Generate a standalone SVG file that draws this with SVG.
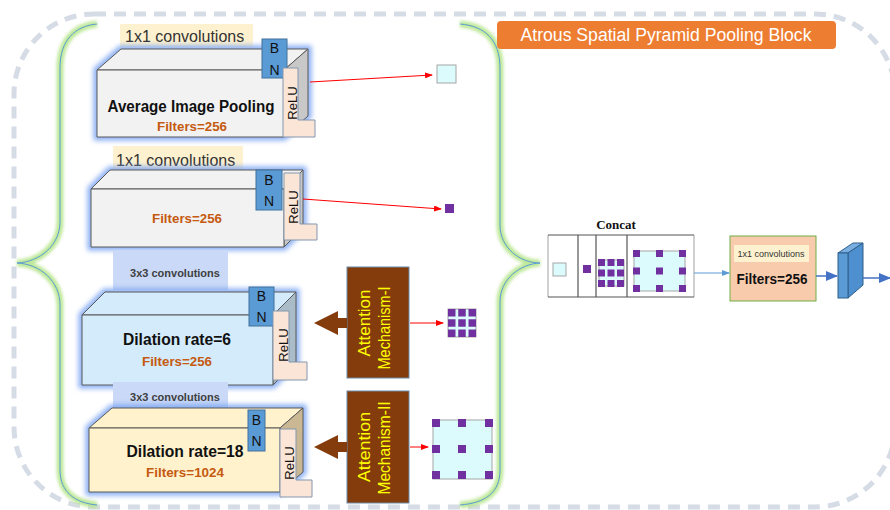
<svg xmlns="http://www.w3.org/2000/svg" width="890" height="510" viewBox="0 0 890 510">
<defs>
<style>
.f{font-family:"Liberation Sans",Arial,sans-serif}
.ytag{fill:#fdf1d0}
.btag{fill:#c9d9f7}
.edge{stroke:#595959;stroke-width:1;stroke-linejoin:round}
.bn{fill:#5b9bd5;stroke:#41719c;stroke-width:1}
.relu{fill:#fbe5d6;stroke:#8497b0;stroke-width:1}
.tbn{font-size:14px;fill:#111;text-anchor:middle}
.trelu{font-size:13px;fill:#111;text-anchor:middle}
.tmain{font-size:16px;font-weight:bold;fill:#111;text-anchor:middle}
.tfilt{font-size:13px;font-weight:bold;fill:#c55a11;text-anchor:middle}
.glow{fill:none;stroke:#7da6f2;stroke-width:7;filter:url(#blur);opacity:.9}
.pu{fill:#7030a0}
.cy{fill:#dcfbfd;stroke:#a6a6a6;stroke-width:1}
.att{fill:#843c0c;stroke:#6d8aa8;stroke-width:1}
.tatt{font-size:17px;fill:#ffff00;text-anchor:middle}
.red{stroke:#ff0000;stroke-width:1;fill:none;marker-end:url(#ra)}
.brace-g{fill:none;stroke:#b5e58a;stroke-width:7;filter:url(#gblur);opacity:.85}
.brace{fill:none;stroke:#5b9bd5;stroke-width:1}
.barrow{fill:#843c0c}
</style>
<filter id="blur" x="-20%" y="-30%" width="140%" height="160%"><feGaussianBlur stdDeviation="2.5"/></filter>
<filter id="gblur" x="-50%" y="-10%" width="200%" height="120%"><feGaussianBlur stdDeviation="1.5"/></filter>
<marker id="ra" markerWidth="8" markerHeight="6" refX="7" refY="3" orient="auto" markerUnits="userSpaceOnUse"><path d="M0,0 L8,3 L0,6 z" fill="#ff0000"/></marker>
<marker id="bs" markerWidth="8" markerHeight="6" refX="7" refY="3" orient="auto" markerUnits="userSpaceOnUse"><path d="M0,0 L8,3 L0,6 z" fill="#5b9bd5"/></marker>
<marker id="bl" markerWidth="12" markerHeight="10" refX="11" refY="5" orient="auto" markerUnits="userSpaceOnUse"><path d="M0,0 L12,5 L0,10 z" fill="#4472c4"/></marker>
</defs>

<rect x="14" y="14" width="881" height="493" rx="80" fill="none" stroke="#d6dce5" stroke-width="5" stroke-dasharray="12 8"/>

<g id="left-brace">
<path class="brace-g" d="M97,24 C75,26 60,40 60,68 L60,222 C60,245 40,262 17,263 C40,264 60,281 60,305 L60,470 C60,492 75,503 97,505"/>
<path class="brace" d="M97,24 C75,26 60,40 60,68 L60,222 C60,245 40,262 17,263 C40,264 60,281 60,305 L60,470 C60,492 75,503 97,505"/>
</g>
<g id="right-brace">
<path class="brace-g" d="M460,24 C485,26 500,40 500,68 L500,225 C500,248 520,263 540,263 C520,264 500,279 500,302 L500,470 C500,493 485,503 460,505"/>
<path class="brace" d="M460,24 C485,26 500,40 500,68 L500,225 C500,248 520,263 540,263 C520,264 500,279 500,302 L500,470 C500,493 485,503 460,505"/>
</g>

<g id="title">
<rect x="497" y="21" width="339" height="28" rx="4" fill="#ed7d31"/>
<text class="f" x="666" y="41" font-size="18" fill="#ffffff" text-anchor="middle" textLength="291" lengthAdjust="spacingAndGlyphs">Atrous Spatial Pyramid Pooling Block</text>
</g>

<g id="avg-pool">
<rect class="ytag" x="120" y="24" width="133" height="23"/>
<text class="f" x="125" y="42" font-size="16" fill="#333">1x1 convolutions</text>
<polygon class="glow" points="97,70 121,49 308,49 308,116 284,137 97,137"/>
<polygon class="edge" fill="#f2f2f2" points="97,70 121,49 308,49 284,70"/>
<polygon class="edge" fill="#c8c8c8" points="284,70 308,49 308,116 284,137"/>
<rect class="edge" fill="#f2f2f2" x="97" y="70" width="187" height="67"/>
<text class="f tmain" x="191" y="112" textLength="167" lengthAdjust="spacingAndGlyphs">Average Image Pooling</text>
<text class="f tfilt" x="192" y="131" textLength="70" lengthAdjust="spacingAndGlyphs">Filters=256</text>
<rect class="bn" x="262" y="39" width="25" height="39"/>
<text class="f tbn" x="274.5" y="53">B</text>
<text class="f tbn" x="274.5" y="75">N</text>
<polygon class="relu" points="283,68 298,68 298,120 315,120 315,137 283,137"/>
<text class="f trelu" transform="translate(297,103) rotate(-90)">ReLU</text>
</g>

<g id="conv1x1">
<rect class="ytag" x="113" y="146" width="130" height="24"/>
<text class="f" x="116" y="166" font-size="16" fill="#333">1x1 convolutions</text>
<polygon class="glow" points="91,189 110,170 303,170 303,228 284,247 91,247"/>
<polygon class="edge" fill="#f2f2f2" points="91,189 110,170 303,170 284,189"/>
<polygon class="edge" fill="#c8c8c8" points="284,189 303,170 303,228 284,247"/>
<rect class="edge" fill="#f2f2f2" x="91" y="189" width="193" height="58"/>
<text class="f tfilt" x="187" y="223" textLength="70" lengthAdjust="spacingAndGlyphs">Filters=256</text>
<rect class="bn" x="256" y="170" width="26" height="40"/>
<text class="f tbn" x="269" y="185">B</text>
<text class="f tbn" x="269" y="206">N</text>
<polygon class="relu" points="284,173 300,173 300,224 317,224 317,240 284,240"/>
<text class="f trelu" transform="translate(298,207) rotate(-90)">ReLU</text>
</g>

<g id="dilation6">
<rect class="btag" x="113" y="250" width="115" height="40"/>
<text class="f" x="175" y="277" font-size="11" font-weight="bold" fill="#404040" text-anchor="middle">3x3 convolutions</text>
<polygon class="glow" points="82,315 105,292 296,292 296,362 273,385 82,385"/>
<polygon class="edge" fill="#d3ebfb" points="82,315 105,292 296,292 273,315"/>
<polygon class="edge" fill="#a9bcc8" points="273,315 296,292 296,362 273,385"/>
<rect class="edge" fill="#d3ebfb" x="82" y="315" width="191" height="70"/>
<text class="f tmain" x="177" y="345" font-size="17" textLength="108" lengthAdjust="spacingAndGlyphs">Dilation rate=6</text>
<text class="f tfilt" x="177" y="366" textLength="70" lengthAdjust="spacingAndGlyphs">Filters=256</text>
<rect class="bn" x="249" y="287" width="25" height="39"/>
<text class="f tbn" x="261.5" y="301">B</text>
<text class="f tbn" x="261.5" y="322">N</text>
<polygon class="relu" points="273,311 289,311 289,362 307,362 307,380 273,380"/>
<text class="f trelu" transform="translate(288,345) rotate(-90)">ReLU</text>
</g>

<g id="dilation18">
<rect class="btag" x="113" y="382" width="115" height="28"/>
<text class="f" x="175" y="401" font-size="11" font-weight="bold" fill="#404040" text-anchor="middle">3x3 convolutions</text>
<polygon class="glow" points="89,428 112,408 303,408 303,472 280,492 89,492"/>
<polygon class="edge" fill="#fff2cc" points="89,428 112,408 303,408 280,428"/>
<polygon class="edge" fill="#c9b893" points="280,428 303,408 303,472 280,492"/>
<rect class="edge" fill="#fff2cc" x="89" y="428" width="191" height="64"/>
<text class="f tmain" x="185" y="457" font-size="17" textLength="117" lengthAdjust="spacingAndGlyphs">Dilation rate=18</text>
<text class="f tfilt" x="185" y="477" textLength="78" lengthAdjust="spacingAndGlyphs">Filters=1024</text>
<rect class="bn" x="248" y="410" width="17" height="41"/>
<text class="f tbn" x="256.5" y="425">B</text>
<text class="f tbn" x="256.5" y="446">N</text>
<polygon class="relu" points="280,429 296,429 296,480 312,480 312,497 280,497"/>
<text class="f trelu" transform="translate(294,463) rotate(-90)">ReLU</text>
</g>

<g id="attention-1">
<rect class="att" x="347" y="267" width="62" height="111"/>
<text class="f tatt" transform="translate(370,323) rotate(-90)" textLength="67" lengthAdjust="spacingAndGlyphs">Attention</text>
<text class="f tatt" transform="translate(390,328) rotate(-90)" textLength="83" lengthAdjust="spacingAndGlyphs">Mechanism-I</text>
</g>
<g id="attention-2">
<rect class="att" x="347" y="391" width="62" height="112"/>
<text class="f tatt" transform="translate(370,447) rotate(-90)" textLength="70" lengthAdjust="spacingAndGlyphs">Attention</text>
<text class="f tatt" transform="translate(390,448) rotate(-90)" textLength="93" lengthAdjust="spacingAndGlyphs">Mechanism-II</text>
</g>

<g id="out-avg"><rect class="cy" x="437" y="65" width="19" height="18"/></g>
<g id="out-1x1"><rect class="pu" x="445" y="204" width="9" height="9"/></g>
<g id="out-d6">
<rect class="cy" x="448" y="309" width="28" height="28"/>
<rect class="pu" x="448" y="309" width="7.5" height="7.5"/><rect class="pu" x="458.25" y="309" width="7.5" height="7.5"/><rect class="pu" x="468.5" y="309" width="7.5" height="7.5"/>
<rect class="pu" x="448" y="319.25" width="7.5" height="7.5"/><rect class="pu" x="458.25" y="319.25" width="7.5" height="7.5"/><rect class="pu" x="468.5" y="319.25" width="7.5" height="7.5"/>
<rect class="pu" x="448" y="329.5" width="7.5" height="7.5"/><rect class="pu" x="458.25" y="329.5" width="7.5" height="7.5"/><rect class="pu" x="468.5" y="329.5" width="7.5" height="7.5"/>
</g>
<g id="out-d18">
<rect class="cy" x="433" y="420" width="59" height="59"/>
<rect class="pu" x="432" y="419" width="8" height="8"/><rect class="pu" x="458" y="419" width="8" height="8"/><rect class="pu" x="485" y="419" width="8" height="8"/>
<rect class="pu" x="432" y="445" width="8" height="8"/><rect class="pu" x="458" y="445" width="8" height="8"/><rect class="pu" x="485" y="445" width="8" height="8"/>
<rect class="pu" x="432" y="471" width="8" height="8"/><rect class="pu" x="458" y="471" width="8" height="8"/><rect class="pu" x="485" y="471" width="8" height="8"/>
</g>

<g id="concat">
<text x="616" y="229" font-family="'Liberation Serif','Times New Roman',serif" font-size="13" font-weight="bold" fill="#111" text-anchor="middle">Concat</text>
<line x1="548" y1="235" x2="548" y2="297" stroke="#a0a0a0" stroke-width="1"/>
<line x1="694" y1="235" x2="694" y2="297" stroke="#a0a0a0" stroke-width="1"/>
<line x1="548" y1="235" x2="694" y2="235" stroke="#555" stroke-width="1.2"/>
<line x1="548" y1="297" x2="694" y2="297" stroke="#555" stroke-width="1.2"/>
<line x1="578" y1="235" x2="578" y2="297" stroke="#555" stroke-width="1.2"/>
<line x1="596" y1="235" x2="596" y2="297" stroke="#555" stroke-width="1.2"/>
<line x1="627" y1="235" x2="627" y2="297" stroke="#555" stroke-width="1.2"/>
<rect class="cy" x="553" y="263" width="13" height="13"/>
<rect class="pu" x="583" y="265" width="8" height="8"/>
<rect class="cy" x="599" y="260" width="25" height="26"/>
<rect class="pu" x="598" y="259" width="7" height="7"/><rect class="pu" x="607.5" y="259" width="7" height="7"/><rect class="pu" x="617" y="259" width="7" height="7"/>
<rect class="pu" x="598" y="269.5" width="7" height="7"/><rect class="pu" x="607.5" y="269.5" width="7" height="7"/><rect class="pu" x="617" y="269.5" width="7" height="7"/>
<rect class="pu" x="598" y="280" width="7" height="7"/><rect class="pu" x="607.5" y="280" width="7" height="7"/><rect class="pu" x="617" y="280" width="7" height="7"/>
<rect class="cy" x="634" y="251" width="51" height="40"/>
<rect class="pu" x="633" y="250" width="7" height="7"/><rect class="pu" x="656" y="250" width="7" height="7"/><rect class="pu" x="679" y="250" width="7" height="7"/>
<rect class="pu" x="633" y="267.5" width="7" height="7"/><rect class="pu" x="656" y="267.5" width="7" height="7"/><rect class="pu" x="679" y="267.5" width="7" height="7"/>
<rect class="pu" x="633" y="285" width="7" height="7"/><rect class="pu" x="656" y="285" width="7" height="7"/><rect class="pu" x="679" y="285" width="7" height="7"/>
</g>

<g id="final-conv">
<rect x="730" y="236" width="86" height="65" fill="#f8cbad" stroke="#70ad47" stroke-width="1"/>
<rect class="ytag" x="734" y="245" width="75" height="17"/>
<text class="f" x="771" y="257" font-size="9" fill="#333" text-anchor="middle">1x1 convolutions</text>
<text class="f" x="772" y="284" font-size="14" font-weight="bold" fill="#111" text-anchor="middle" textLength="71" lengthAdjust="spacingAndGlyphs">Filters=256</text>
</g>

<g id="output-slab">
<polygon points="838,253 853,243 863,243 848,253" fill="#7aaee0" stroke="#2e5f8a" stroke-width="1" stroke-linejoin="round"/>
<polygon points="848,253 863,243 863,285 848,298" fill="#4e8fcf" stroke="#2e5f8a" stroke-width="1" stroke-linejoin="round"/>
<rect x="838" y="253" width="10" height="45" fill="#5b9bd5" stroke="#2e5f8a" stroke-width="1"/>
</g>

<g id="connectors">
<line class="red" x1="310" y1="82" x2="432" y2="75"/>
<line class="red" x1="303" y1="199" x2="441" y2="209"/>
<line class="red" x1="410" y1="323" x2="443" y2="323"/>
<line class="red" x1="410" y1="447" x2="428" y2="447"/>
<polygon class="barrow" points="314,323 338,311 338,318 347,318 347,328 338,328 338,335"/>
<polygon class="barrow" points="314,447 338,435 338,442 347,442 347,452 338,452 338,459"/>
<line x1="694" y1="273" x2="729" y2="273" stroke="#5b9bd5" stroke-width="1" marker-end="url(#bs)"/>
<line x1="816" y1="276" x2="837" y2="276" stroke="#4472c4" stroke-width="1.5" marker-end="url(#bl)"/>
<line x1="863" y1="278" x2="890" y2="278" stroke="#4472c4" stroke-width="1.5" marker-end="url(#bl)"/>
</g>
</svg>
